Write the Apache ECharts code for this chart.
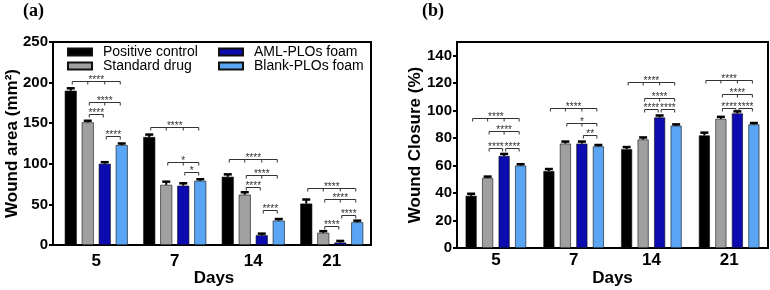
<!DOCTYPE html>
<html>
<head>
<meta charset="utf-8">
<script src="https://cdn.jsdelivr.net/npm/echarts@6/dist/echarts.min.js"></script>
<style>
  html, body { margin: 0; padding: 0; background: #fff; }
  #chart { width: 770px; height: 290px; }
</style>
</head>
<body>
<div id="chart"></div>
<script>
// ---- data ----
const days = ['5', '7', '14', '21']
const groups = ['Positive control', 'Standard drug', 'AML-PLOs foam', 'Blank-PLOs foam']
const groupColors = ['#000000', '#a0a0a0', '#0b0bb0', '#5aa6f4']

// (a) wound area, mm2
const areaPositive = [190, 133, 84, 51]
const areaStandard = [151, 74, 62, 15]
const areaAml = [100, 73, 12, 3]
const areaBlank = [123, 79, 30, 28]
const areaPositiveErr = [3, 3, 3, 5]
const areaStandardErr = [2, 4, 3, 2]
const areaAmlErr = [2, 3, 2, 2]
const areaBlankErr = [2, 2, 2, 2]
const areaTicks = [0, 50, 100, 150, 200, 250]
// [day index, from group, to group, level, stars]
const areaBrackets = [
  [0, 0, 3, 202, '****'], [0, 1, 3, 176, '****'], [0, 1, 2, 161, '****'], [0, 2, 3, 134, '****'],
  [1, 0, 3, 145, '****'], [1, 1, 3, 102, '*'], [1, 2, 3, 90, '*'],
  [2, 0, 3, 106, '****'], [2, 1, 3, 86, '****'], [2, 1, 2, 71, '****'], [2, 2, 3, 43, '****'],
  [3, 0, 3, 70, '****'], [3, 1, 3, 57, '****'], [3, 2, 3, 37, '****'], [3, 1, 2, 23, '****']
]

// (b) wound closure, %
const closurePositive = [38, 56, 72, 82]
const closureStandard = [51, 76, 79, 94]
const closureAml = [67, 76, 95, 98]
const closureBlank = [60, 74, 89, 90]
const closurePositiveErr = [1.5, 1.5, 1.5, 2]
const closureStandardErr = [1, 1.5, 1.5, 1.5]
const closureAmlErr = [1.5, 1.5, 1.5, 1.5]
const closureBlankErr = [1, 1, 1, 1]
const closureTicks = [0, 20, 40, 60, 80, 100, 120, 140]
const closureBrackets = [
  [0, 0, 3, 95, '****'], [0, 1, 3, 85, '****'], [0, 1, 2, 73, '****'], [0, 2, 3, 73, '****'],
  [1, 0, 3, 102, '****'], [1, 1, 3, 91, '*'], [1, 2, 3, 82, '**'],
  [2, 0, 3, 121, '****'], [2, 1, 3, 109, '****'], [2, 1, 2, 101, '****'], [2, 2, 3, 101, '****'],
  [3, 0, 3, 122, '****'], [3, 1, 3, 112, '****'], [3, 1, 2, 102, '****'], [3, 2, 3, 102, '****']
]

// ---- layout ----
const FONT = 'Liberation Sans'
const LEFT_BAR = 12, LEFT_GAP = 5
const RIGHT_BAR = 11, RIGHT_GAP = 5.5

function errorData(vals, errs) {
  const out = []
  for (let c = 0; c < days.length; c++) {
    for (let g = 0; g < vals.length; g++) out.push([c, g, vals[g][c], errs[g][c]])
  }
  return out
}

function errorRenderer(step) {
  return function (params, api) {
    const cat = api.value(0), g = api.value(1), v = api.value(2), e = api.value(3)
    const base = api.coord([cat, v])
    const top = api.coord([cat, v + e])
    const x = base[0] + (g - 1.5) * step
    return {
      type: 'group',
      children: [
        {type: 'line', shape: {x1: x, y1: base[1], x2: x, y2: top[1]}, style: {stroke: '#000', lineWidth: 2}},
        {type: 'line', shape: {x1: x - 4, y1: top[1], x2: x + 4, y2: top[1]}, style: {stroke: '#000', lineWidth: 2.5}}
      ]
    }
  }
}

function bracketRenderer(brackets, step) {
  return function (params, api) {
    const b = brackets[params.dataIndex]
    const c = api.coord([b[0], b[3]])
    const x1 = c[0] + (b[1] - 1.5) * step + 1.5
    const x2 = c[0] + (b[2] - 1.5) * step - 1.5
    const y = Math.round(c[1]) + 0.5
    const children = [{
      type: 'polyline',
      shape: {points: [[x1, y + 3], [x1, y], [x2, y], [x2, y + 3]]},
      style: {stroke: '#333', fill: null, lineWidth: 1}
    }]
    for (let k = b[1] + 1; k < b[2]; k++) {
      const xm = c[0] + (k - 1.5) * step
      children.push({type: 'line', shape: {x1: xm, y1: y, x2: xm, y2: y + 3}, style: {stroke: '#333', lineWidth: 1}})
    }
    children.push({
      type: 'text',
      style: {text: b[4], x: (x1 + x2) / 2, y: y - 1, align: 'center', verticalAlign: 'middle',
        font: '10px ' + FONT, fill: '#333'}
    })
    return {type: 'group', children: children}
  }
}

function barSeries(vals, axis, width, gap) {
  return vals.map((v, i) => ({
    name: groups[i],
    type: 'bar',
    xAxisIndex: axis,
    yAxisIndex: axis,
    barWidth: width,
    barGap: (gap / width * 100) + '%',
    data: v,
    itemStyle: {color: groupColors[i], borderColor: '#111', borderWidth: 0.6}
  }))
}

function xAxisOpt(idx, margin, gap) {
  return {
    type: 'category', gridIndex: idx, data: days,
    name: 'Days', nameLocation: 'middle', nameGap: gap, nameMoveOverlap: false,
    nameTextStyle: {fontFamily: FONT, fontWeight: 'bold', fontSize: 17, color: '#000'},
    axisLine: {lineStyle: {color: '#000', width: 2}},
    axisTick: {alignWithLabel: true, length: 4, lineStyle: {color: '#000', width: 2}},
    axisLabel: {fontFamily: FONT, fontWeight: 'bold', fontSize: 17, color: '#000', margin: margin}
  }
}

function yAxisOpt(idx, name, ticks, max, gap) {
  return {
    type: 'value', gridIndex: idx, min: 0, max: max,
    name: name, nameLocation: 'middle', nameGap: gap, nameMoveOverlap: false,
    nameTextStyle: {fontFamily: FONT, fontWeight: 'bold', fontSize: 17, color: '#000'},
    splitLine: {show: false},
    axisLine: {show: true, lineStyle: {color: '#000', width: 2}},
    axisTick: {show: true, length: 4, customValues: ticks, lineStyle: {color: '#000', width: 2}},
    axisLabel: {fontFamily: FONT, fontWeight: 'bold', fontSize: 15, color: '#000', margin: 5, customValues: ticks}
  }
}

const chart = echarts.init(document.getElementById('chart'))

const areaVals = [areaPositive, areaStandard, areaAml, areaBlank]
const areaErrs = [areaPositiveErr, areaStandardErr, areaAmlErr, areaBlankErr]
const closureVals = [closurePositive, closureStandard, closureAml, closureBlank]
const closureErrs = [closurePositiveErr, closureStandardErr, closureAmlErr, closureBlankErr]

const legendCommon = {
  orient: 'vertical', itemWidth: 24, itemHeight: 7, itemGap: 0,
  selectedMode: false, icon: 'rect',
  textStyle: {fontFamily: FONT, fontSize: 14, color: '#000', padding: [0, 0, 0, 6], lineHeight: 14}
}

chart.setOption({
  animation: false,
  textStyle: {fontFamily: FONT},
  graphic: [
    {type: 'text', left: 23, top: 2, style: {text: '(a)', font: 'bold 18px Liberation Serif', fill: '#000'}},
    {type: 'text', left: 422, top: 2, style: {text: '(b)', font: 'bold 18px Liberation Serif', fill: '#000'}}
  ],
  legend: [
    Object.assign({left: 62, top: 40, data: groups.slice(0, 2)}, legendCommon),
    Object.assign({left: 213, top: 40, data: groups.slice(2, 4)}, legendCommon)
  ],
  grid: [
    // (a) plotting band sits a little right of its frame / y axis
    {left: 57, top: 42, width: 314, height: 203, outerBoundsMode: 'none'},
    {left: 457, top: 42, width: 311, height: 206, outerBoundsMode: 'none',
      show: true, borderColor: '#000', borderWidth: 2},
    // (a) frame carrying the y axis
    {left: 53, top: 42, width: 318, height: 203, outerBoundsMode: 'none',
      show: true, borderColor: '#000', borderWidth: 2}
  ],
  xAxis: [
    xAxisOpt(0, 8, 25),
    xAxisOpt(1, 4, 22),
    {type: 'category', gridIndex: 2, data: days, show: false}
  ],
  yAxis: [
    {type: 'value', gridIndex: 0, min: 0, max: 250, show: false, splitLine: {show: false}},
    yAxisOpt(1, 'Wound Closure (%)', closureTicks, 150, 33),
    yAxisOpt(2, 'Wound area (mm²)', areaTicks, 250, 32)
  ],
  series: [].concat(
    barSeries(areaVals, 0, LEFT_BAR, LEFT_GAP),
    barSeries(closureVals, 1, RIGHT_BAR, RIGHT_GAP),
    [
      {type: 'custom', xAxisIndex: 0, yAxisIndex: 0, silent: true, z: 3,
        encode: {x: 0, y: 2}, data: errorData(areaVals, areaErrs),
        renderItem: errorRenderer(LEFT_BAR + LEFT_GAP)},
      {type: 'custom', xAxisIndex: 1, yAxisIndex: 1, silent: true, z: 3,
        encode: {x: 0, y: 2}, data: errorData(closureVals, closureErrs),
        renderItem: errorRenderer(RIGHT_BAR + RIGHT_GAP)},
      {type: 'custom', xAxisIndex: 0, yAxisIndex: 0, silent: true, z: 4,
        encode: {x: 0, y: 3}, data: areaBrackets.map(b => [b[0], b[1], b[2], b[3]]),
        renderItem: bracketRenderer(areaBrackets, LEFT_BAR + LEFT_GAP)},
      {type: 'custom', xAxisIndex: 1, yAxisIndex: 1, silent: true, z: 4,
        encode: {x: 0, y: 3}, data: closureBrackets.map(b => [b[0], b[1], b[2], b[3]]),
        renderItem: bracketRenderer(closureBrackets, RIGHT_BAR + RIGHT_GAP)}
    ]
  )
})
</script>
</body>
</html>
